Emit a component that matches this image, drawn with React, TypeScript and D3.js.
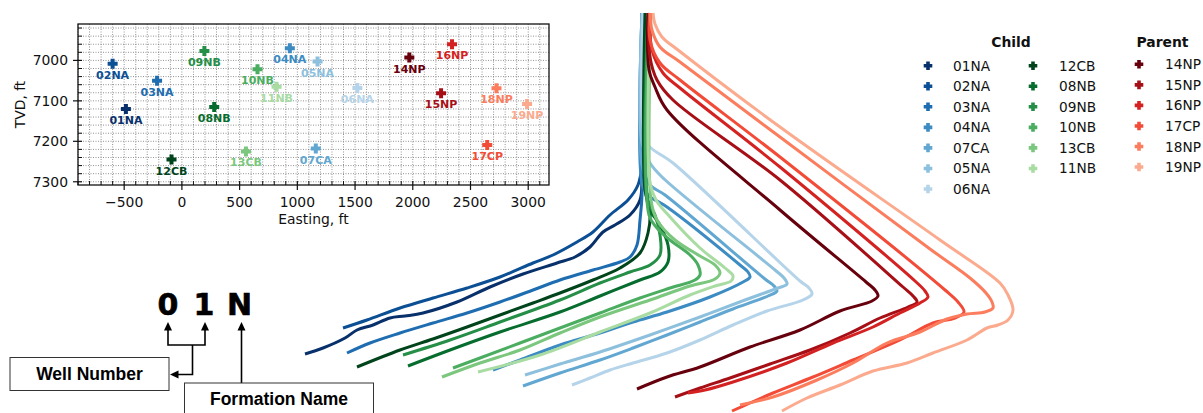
import React from 'react';
import * as d3 from 'd3';

// ---------- Well groups (legend order) ----------
const childBlue = ['01NA', '02NA', '03NA', '04NA', '07CA', '05NA', '06NA'];
const childGreen = ['12CB', '08NB', '09NB', '10NB', '13CB', '11NB'];
const parentRed = ['14NP', '15NP', '16NP', '17CP', '18NP', '19NP'];

// ---------- Heel locations (plan view) ----------
const scatterWells = ['02NA', '01NA', '03NA', '09NB', '08NB', '12CB', '10NB', '11NB', '13CB', '04NA', '05NA', '06NA', '07CA', '14NP', '16NP', '15NP', '18NP', '19NP', '17CP'];
const scatterEasting = [-600, -485, -215, 195, 280, -90, 655, 820, 555, 935, 1175, 1520, 1160, 1970, 2340, 2245, 2725, 2990, 2645];
const scatterTvd = [7008, 7120, 7050, 6977, 7115, 7245, 7022, 7065, 7225, 6970, 7003, 7068, 7218, 6993, 6960, 7081, 7069, 7108, 7209];

const eastingTicks = [-500, 0, 500, 1000, 1500, 2000, 2500, 3000];
const tvdTicks = [7000, 7100, 7200, 7300];

// ---------- Projected well paths: [section offset ft, section depth ft] ----------
const path01NA = [[20, 10], [20, 1680], [0, 1880], [-100, 2030], [-250, 2130], [-370, 2200], [-500, 2350], [-650, 2450], [-830, 2510], [-1170, 2620], [-1500, 2750], [-1830, 2900], [-2170, 3010], [-2350, 3040], [-2500, 3060], [-2670, 3130], [-2830, 3180], [-2950, 3260], [-3170, 3360], [-3350, 3420]];
const path02NA = [[20, 10], [20, 1530], [-20, 1730], [-120, 1880], [-300, 2030], [-470, 2200], [-630, 2300], [-870, 2430], [-1070, 2510], [-1400, 2650], [-1730, 2760], [-2070, 2860], [-2400, 2960], [-2730, 3080], [-2970, 3160]];
const path03NA = [[20, 10], [20, 1830], [0, 2080], [-30, 2330], [-100, 2450], [-200, 2500], [-470, 2580], [-800, 2680], [-1070, 2780], [-1400, 2900], [-1730, 3010], [-2070, 3110], [-2400, 3210], [-2700, 3310], [-2930, 3410]];
const path04NA = [[20, 10], [20, 1710], [80, 1830], [270, 1950], [1000, 2530], [1080, 2600], [1100, 2650], [1030, 2700], [700, 2850], [270, 3000], [-70, 3100], [-400, 3210], [-800, 3330], [-1200, 3480], [-1470, 3580]];
const path07CA = [[20, 10], [20, 1530], [100, 1730], [250, 1830], [1250, 2670], [1340, 2740], [1370, 2790], [1280, 2840], [930, 2970], [600, 3100], [270, 3230], [-70, 3360], [-400, 3480], [-800, 3610], [-1170, 3740]];
const path05NA = [[20, 10], [20, 1310], [100, 1510], [220, 1650], [1350, 2580], [1440, 2660], [1470, 2720], [1380, 2760], [1050, 2880], [600, 3050], [100, 3230], [-400, 3400], [-800, 3520], [-1150, 3630]];
const path06NA = [[30, 10], [30, 1160], [80, 1330], [330, 1510], [1600, 2690], [1690, 2760], [1720, 2820], [1630, 2880], [1270, 2990], [930, 3130], [600, 3280], [270, 3410], [-70, 3510], [-300, 3580], [-500, 3660], [-680, 3730]];
const path12CB = [[50, 10], [50, 1780], [100, 1980], [80, 2210], [0, 2410], [-200, 2560], [-470, 2680], [-800, 2810], [-1070, 2910], [-1400, 3030], [-1730, 3150], [-2070, 3270], [-2400, 3380], [-2830, 3550]];
const path08NB = [[80, 10], [80, 1930], [200, 2130], [280, 2330], [280, 2500], [200, 2600], [0, 2680], [-400, 2840], [-800, 3000], [-1400, 3200], [-1900, 3380], [-2320, 3540]];
const path09NB = [[80, 10], [80, 1880], [150, 2030], [200, 2230], [200, 2430], [100, 2530], [-100, 2600], [-400, 2710], [-800, 2880], [-1400, 3100], [-1900, 3280], [-2370, 3430]];
const path10NB = [[90, 10], [90, 2030], [170, 2160], [300, 2280], [500, 2430], [580, 2530], [600, 2630], [550, 2680], [300, 2760], [0, 2860], [-400, 3010], [-800, 3160], [-1200, 3310], [-1600, 3460], [-1870, 3560]];
const path13CB = [[110, 10], [110, 1880], [170, 2080], [350, 2280], [600, 2440], [750, 2530], [800, 2610], [750, 2670], [500, 2740], [100, 2880], [-400, 3050], [-800, 3210], [-1200, 3380], [-1600, 3510], [-1980, 3650]];
const path11NB = [[100, 10], [100, 1710], [160, 1880], [300, 2050], [600, 2360], [850, 2560], [930, 2640], [910, 2690], [750, 2740], [500, 2830], [100, 3010], [-400, 3200], [-1000, 3430], [-1620, 3600]];
const path14NP = [[80, 10], [90, 580], [150, 750], [270, 980], [1400, 1980], [2260, 2700], [2350, 2780], [2380, 2840], [2320, 2890], [2000, 2990], [1600, 3180], [1100, 3350], [600, 3550], [270, 3650], [-30, 3770]];
const path15NP = [[90, 10], [100, 450], [170, 680], [330, 880], [1400, 1680], [2630, 2750], [2730, 2840], [2770, 2900], [2680, 2950], [2400, 3060], [2100, 3210], [1700, 3380], [1300, 3520], [900, 3660], [600, 3760], [350, 3850]];
const path16NP = [[100, 10], [120, 380], [230, 610], [400, 760], [1400, 1550], [2750, 2690], [2850, 2790], [2880, 2850], [2800, 2910], [2600, 3010], [2330, 3150], [1930, 3310], [1470, 3510], [930, 3700], [650, 3780], [480, 3810]];
const path17CP = [[100, 10], [100, 280], [200, 510], [400, 680], [1400, 1450], [3050, 2780], [3180, 2900], [3240, 3000], [3150, 3060], [2930, 3110], [2600, 3280], [2130, 3480], [1730, 3650], [1330, 3810], [1100, 3910], [920, 3990]];
const path18NP = [[100, 10], [120, 180], [200, 350], [400, 500], [1400, 1250], [2900, 2370], [3300, 2660], [3460, 2810], [3520, 2900], [3530, 2960], [3450, 3000], [3270, 3020], [3070, 3070], [2800, 3200], [2470, 3310], [2130, 3510], [1770, 3680], [1330, 3850], [1000, 3930]];
const path19NP = [[130, 10], [150, 120], [220, 250], [380, 380], [1400, 1150], [3000, 2280], [3600, 2710], [3680, 2830], [3730, 2980], [3680, 3080], [3580, 3130], [3470, 3160], [3270, 3280], [2930, 3410], [2670, 3510], [2330, 3590], [2000, 3730], [1670, 3860], [1420, 3990]];

const wellPaths: Record<string, number[][]> = {
  '01NA': path01NA, '02NA': path02NA, '03NA': path03NA, '04NA': path04NA, '07CA': path07CA,
  '05NA': path05NA, '06NA': path06NA, '12CB': path12CB, '08NB': path08NB, '09NB': path09NB,
  '10NB': path10NB, '13CB': path13CB, '11NB': path11NB, '14NP': path14NP, '15NP': path15NP,
  '16NP': path16NP, '17CP': path17CP, '18NP': path18NP, '19NP': path19NP,
};

// ---------- Colours ----------
const colorOf: Record<string, string> = {};
childBlue.forEach((w, i) => { colorOf[w] = d3.interpolateBlues(1 - (0.7 * i) / (childBlue.length - 1)); });
childGreen.forEach((w, i) => { colorOf[w] = d3.interpolateGreens(1 - (0.65 * i) / (childGreen.length - 1)); });
parentRed.forEach((w, i) => { colorOf[w] = d3.interpolateReds(1 - (0.7 * i) / (parentRed.length - 1)); });

const FONT = 'DejaVu Sans, Verdana, sans-serif';
const ARIAL = 'Liberation Sans, Arial, sans-serif';

function plusPath(r: number, w: number) {
  return `M${-w},${-r}H${w}V${-w}H${r}V${w}H${w}V${r}H${-w}V${w}H${-r}V${-w}H${-w}Z`;
}

function fmt(v: number) {
  return v < 0 ? `\u2212${Math.abs(v)}` : `${v}`;
}

export default function App() {
  // plan-view scatter axes
  const sx = d3.scaleLinear().domain([-900, 3180]).range([78, 549]);
  const sy = d3.scaleLinear().domain([6910, 7308]).range([24, 185]);
  const [x0, x1] = sx.range();
  const [y0, y1] = sy.range();

  const xMinor = d3.range(-900, 3181, 100);
  const yMinor = d3.range(6920, 7308, 20);

  // trajectory section axes
  const tx = d3.scaleLinear().domain([-3500, 4000]).range([290, 1040]);
  const ty = d3.scaleLinear().domain([0, 4000]).range([12, 412]);
  const line = d3
    .line<number[]>()
    .x((d) => tx(d[0]))
    .y((d) => ty(d[1]))
    .curve(d3.curveCatmullRom.alpha(0.5));

  const drawOrder = [...childBlue, ...childGreen, ...parentRed];

  const legendCols = [
    { wells: childBlue, mx: 928, tx: 953, y: 65.7 },
    { wells: childGreen, mx: 1033, tx: 1059, y: 65.7 },
    { wells: parentRed, mx: 1139, tx: 1165, y: 64.3 },
  ];
  const rowStep = 20.55;

  const arrowHead = (x: number, y: number, dir: 'up' | 'left') =>
    dir === 'up'
      ? `M${x},${y}L${x - 4},${y + 8.5}L${x + 4},${y + 8.5}Z`
      : `M${x},${y}L${x + 8.5},${y - 4}L${x + 8.5},${y + 4}Z`;

  return (
    <svg
      width={1203}
      height={413}
      style={{ position: 'absolute', left: 0, top: 0, background: '#fff' }}
      fontFamily={FONT}
    >
      <rect x={0} y={0} width={1203} height={413} fill="#fff" />

      {/* well trajectories */}
      <g fill="none" strokeWidth={3} strokeLinejoin="round" strokeLinecap="butt">
        {drawOrder.map((w) => (
          <path key={w} d={line(wellPaths[w]) || ''} stroke={colorOf[w]} />
        ))}
      </g>

      {/* plan-view scatter */}
      <g>
        <g stroke="#6f6f6f" strokeWidth={0.75} strokeDasharray="1,1.5">
          {xMinor.map((v) => (
            <line key={'gx' + v} x1={sx(v)} x2={sx(v)} y1={y0} y2={y1} />
          ))}
          {yMinor.map((v) => (
            <line key={'gy' + v} y1={sy(v)} y2={sy(v)} x1={x0} x2={x1} />
          ))}
        </g>
        <g stroke="#111" strokeWidth={1}>
          {xMinor.filter((v) => !eastingTicks.includes(v)).map((v) => (
            <line key={'mx' + v} x1={sx(v)} x2={sx(v)} y1={y1} y2={y1 - 4} />
          ))}
          {yMinor.filter((v) => !tvdTicks.includes(v)).map((v) => (
            <line key={'my' + v} y1={sy(v)} y2={sy(v)} x1={x0} x2={x0 + 4} />
          ))}
          {eastingTicks.map((v) => (
            <line key={'Mx' + v} x1={sx(v)} x2={sx(v)} y1={y1 - 4} y2={y1 + 5} strokeWidth={1.2} />
          ))}
          {tvdTicks.map((v) => (
            <line key={'My' + v} y1={sy(v)} y2={sy(v)} x1={x0 - 5} x2={x0 + 4} strokeWidth={1.2} />
          ))}
        </g>
        <rect x={x0} y={y0} width={x1 - x0} height={y1 - y0} fill="none" stroke="#111" strokeWidth={1.3} />
        <g fontSize={13.9} fill="#111">
          {eastingTicks.map((v) => (
            <text key={'lx' + v} x={sx(v)} y={y1 + 21.7} textAnchor="middle">
              {fmt(v)}
            </text>
          ))}
          {tvdTicks.map((v) => (
            <text key={'ly' + v} x={x0 - 10} y={sy(v)} textAnchor="end" dominantBaseline="central">
              {v}
            </text>
          ))}
          <text x={(x0 + x1) / 2} y={224} textAnchor="middle">
            Easting, ft
          </text>
          <text
            transform={`translate(20,${(y0 + y1) / 2}) rotate(-90)`}
            textAnchor="middle"
            dominantBaseline="central"
          >
            TVD, ft
          </text>
        </g>
        {scatterWells.map((w, i) => {
          const cx = sx(scatterEasting[i]);
          const cy = sy(scatterTvd[i]);
          return (
            <g key={'pt' + w}>
              <path d={plusPath(5, 2)} transform={`translate(${cx},${cy})`} fill={colorOf[w]} />
              <text
                x={cx}
                y={cy + 15}
                textAnchor="middle"
                fontSize={11}
                fontWeight="bold"
                fill={colorOf[w]}
              >
                {w}
              </text>
            </g>
          );
        })}
      </g>

      {/* legend */}
      <g>
        <text x={1011} y={42} textAnchor="middle" dominantBaseline="central" fontWeight="bold" fontSize={13.9} fill="#111">
          Child
        </text>
        <text x={1162.5} y={42} textAnchor="middle" dominantBaseline="central" fontWeight="bold" fontSize={13.9} fill="#111">
          Parent
        </text>
        {legendCols.map((col) =>
          col.wells.map((w, i) => {
            const y = col.y + i * rowStep;
            return (
              <g key={'lg' + w}>
                <path d={plusPath(4.3, 1.8)} transform={`translate(${col.mx},${y})`} fill={colorOf[w]} />
                <text x={col.tx} y={y} dominantBaseline="central" fontSize={13.7} fill="#111">
                  {w}
                </text>
              </g>
            );
          })
        )}
      </g>

      {/* naming convention diagram */}
      <g fill="#000">
        <g fontFamily={FONT} fontWeight="bold" fontSize={30} textAnchor="middle" stroke="#000" strokeWidth={0.6}>
          <text x={168} y={315}>0</text>
          <text x={204} y={315}>1</text>
          <text x={239.5} y={315}>N</text>
        </g>
        <g stroke="#000" strokeWidth={1.6} fill="none">
          <polyline points="168,330 168,345 205,345 205,330" />
          <polyline points="192.5,345 192.5,374.5 178,374.5" />
          <line x1={241.5} y1={383} x2={241.5} y2={330} />
        </g>
        <path d={arrowHead(168, 322, 'up')} />
        <path d={arrowHead(205, 322, 'up')} />
        <path d={arrowHead(241.5, 322, 'up')} />
        <path d={arrowHead(170, 374.5, 'left')} />
        <rect x={10} y={357.5} width={159} height={33} fill="#fff" stroke="#333" strokeWidth={1} />
        <rect x={184.5} y={383} width={189} height={40} fill="#fff" stroke="#333" strokeWidth={1} />
        <text x={89.5} y={380} textAnchor="middle" fontFamily={ARIAL} fontWeight="bold" fontSize={17.5}>
          Well Number
        </text>
        <text x={279} y={405} textAnchor="middle" fontFamily={ARIAL} fontWeight="bold" fontSize={17.5}>
          Formation Name
        </text>
      </g>
    </svg>
  );
}
